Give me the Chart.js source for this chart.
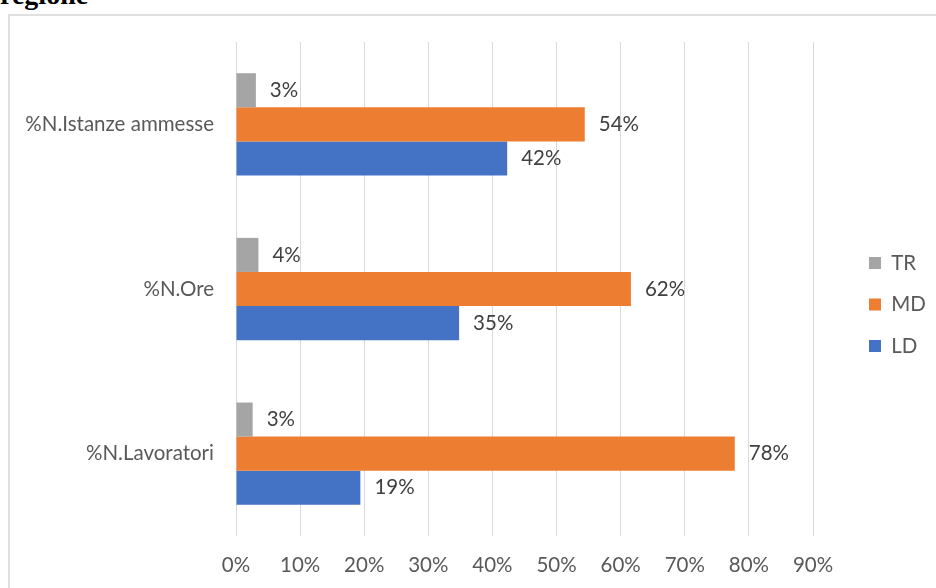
<!DOCTYPE html>
<html>
<head>
<meta charset="utf-8">
<script src="https://cdn.jsdelivr.net/npm/chart.js@4.4.1/dist/chart.umd.min.js"></script>
<style>
  html, body { margin: 0; padding: 0; background: #ffffff; }
  body { width: 936px; height: 588px; position: relative; overflow: hidden; }
  #heading {
    position: absolute; left: 0; top: -19.5px;
    font: bold 28px/28px "Liberation Serif", "Times New Roman", serif;
    color: #000; white-space: nowrap;
  }
  #frame {
    position: absolute; left: 8px; top: 14px; width: 940px; height: 590px;
    border: 2px solid #e0e0e0; box-sizing: border-box;
  }
  #wrap { position: absolute; left: 0; top: 0; width: 936px; height: 588px; }
</style>
</head>
<body>
<div id="heading">regione</div>
<div id="frame"></div>
<div id="wrap"><canvas id="chart" width="936" height="588"></canvas></div>
<script>
// Indicators, listed top to bottom
const categories = ['%N.Istanze ammesse', '%N.Ore', '%N.Lavoratori'];
// Share (%) per contract type
const seriesNames = ['TR', 'MD', 'LD'];
const trValues = [3.1, 3.5, 2.6];
const mdValues = [54.4, 61.6, 77.8];
const ldValues = [42.3, 34.8, 19.4];
const seriesColors = ['#A5A5A5', '#ED7D31', '#4472C4'];
const xTicks = [0, 10, 20, 30, 40, 50, 60, 70, 80, 90];

const FONT = 'Lato, Carlito, Calibri, "Open Sans", sans-serif';
const FONT_SIZE = 20.5;
const AXIS_COLOR = '#595959';

// Value labels just past the end of each bar
const barValueLabels = {
  id: 'barValueLabels',
  afterDatasetsDraw(chart) {
    const ctx = chart.ctx;
    ctx.save();
    ctx.font = FONT_SIZE + 'px ' + FONT;
    ctx.fillStyle = '#404040';
    ctx.textAlign = 'left';
    ctx.textBaseline = 'middle';
    chart.data.datasets.forEach((ds, di) => {
      const meta = chart.getDatasetMeta(di);
      meta.data.forEach((bar, i) => {
        ctx.fillText(Math.round(ds.data[i]) + '%', bar.x + 14, bar.y);
      });
    });
    ctx.restore();
  }
};

// Moves the legend column right of the plot and a little up
const legendOffset = {
  id: 'legendOffset',
  afterLayout(chart) {
    const lg = chart.legend;
    if (!lg) return;
    lg.left += 35;
    lg.right = chart.width;
    lg.width = lg.right - lg.left;
    lg.top -= 10.5;
    lg.bottom -= 10.5;
  }
};

new Chart(document.getElementById('chart'), {
  type: 'bar',
  data: {
    labels: categories,
    datasets: [
      { label: seriesNames[0], data: trValues, backgroundColor: seriesColors[0] },
      { label: seriesNames[1], data: mdValues, backgroundColor: seriesColors[1] },
      { label: seriesNames[2], data: ldValues, backgroundColor: seriesColors[2] }
    ]
  },
  options: {
    indexAxis: 'y',
    responsive: false,
    animation: false,
    events: [],
    categoryPercentage: 0.621,
    barPercentage: 1,
    layout: { padding: { top: 42, left: 0, right: 63, bottom: 0 } },
    scales: {
      x: {
        min: 0, max: 90,
        afterBuildTicks(scale) { scale.ticks = xTicks.map(v => ({ value: v })); },
        ticks: {
          callback: v => v + '%',
          color: AXIS_COLOR,
          font: { family: FONT, size: FONT_SIZE },
          padding: 16.7,
          maxRotation: 0
        },
        grid: { color: '#d9d9d9', lineWidth: 1, drawTicks: false },
        border: { display: false },
        afterFit(scale) { scale.height = 52; }
      },
      y: {
        ticks: {
          color: AXIS_COLOR,
          font: { family: FONT, size: FONT_SIZE },
          padding: 22
        },
        grid: { display: false, drawTicks: false },
        border: { display: false },
        afterFit(scale) { scale.width = 236; }
      }
    },
    plugins: {
      legend: {
        position: 'right',
        maxWidth: 60,
        labels: {
          boxWidth: 12,
          boxHeight: 12,
          padding: 21,
          color: AXIS_COLOR,
          font: { family: FONT, size: FONT_SIZE }
        }
      },
      tooltip: { enabled: false }
    }
  },
  plugins: [barValueLabels, legendOffset]
});
</script>
</body>
</html>
